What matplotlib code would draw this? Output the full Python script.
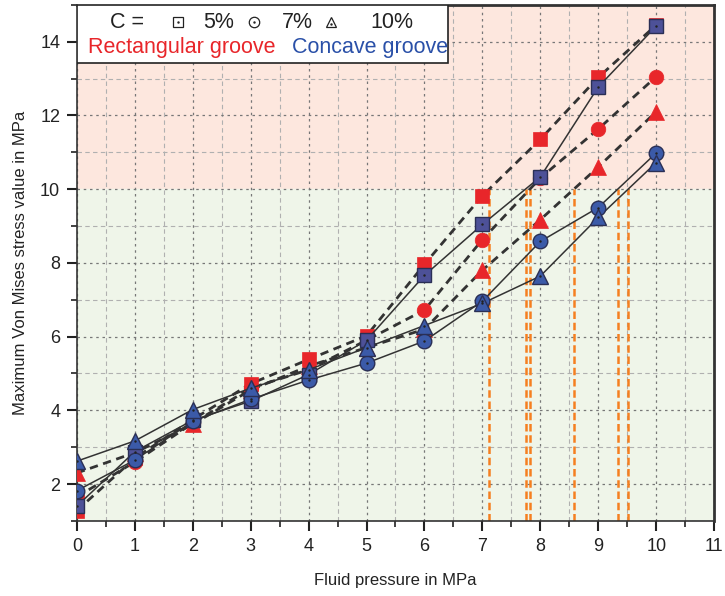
import numpy as np
import matplotlib
matplotlib.use("Agg")
import matplotlib.pyplot as plt
from matplotlib.patches import Rectangle
from matplotlib.ticker import MultipleLocator

plt.rcParams['font.family'] = ['Liberation Sans', 'DejaVu Sans']

# fluid pressure (MPa)
pressure = [0, 1, 2, 3, 4, 5, 6, 7, 8, 9, 10]

# rectangular groove, C = 5%, 7%, 10%
rect_5 = [1.28, 2.70, 3.75, 4.72, 5.38, 6.02, 7.96, 9.82, 11.35, 13.03, 14.45]
rect_7 = [1.65, 2.60, 3.65, 4.60, 5.10, 5.90, 6.72, 8.63, 10.30, 11.63, 13.05]
rect_10 = [2.30, 2.85, 3.62, 4.55, 5.20, 5.70, 6.20, 7.80, 9.17, 10.60, 12.10]

# concave groove, C = 5%, 7%, 10%
conc_5 = [1.40, 2.88, 3.73, 4.25, 4.97, 5.90, 7.66, 9.04, 10.33, 12.77, 14.42]
conc_7 = [1.82, 2.65, 3.70, 4.30, 4.82, 5.28, 5.88, 6.96, 8.58, 9.50, 10.98]
conc_10 = [2.62, 3.17, 4.02, 4.60, 5.10, 5.70, 6.30, 6.90, 7.64, 9.23, 10.72]

limit = 10.0

RED = "#e8262a"
BLUE = "#3b5aa8"
BLUE_SQ = "#4d5198"
EDGE = "#2a2f55"

fig = plt.figure(figsize=(7.25, 5.96), dpi=100)
ax = fig.add_axes([0.106, 0.126, 0.879, 0.866])
ax.set_xlim(0, 11)
ax.set_ylim(1, 15)

# background zones
ax.axhspan(limit, 15, color="#fde7de", zorder=0)
ax.axhspan(1, limit, color="#eff5e9", zorder=0)

# grid
ax.xaxis.set_major_locator(MultipleLocator(1))
ax.xaxis.set_minor_locator(MultipleLocator(0.5))
ax.yaxis.set_major_locator(MultipleLocator(2))
ax.yaxis.set_minor_locator(MultipleLocator(1))
ax.grid(which="major", linestyle=(0, (2, 3)), color="#777777", linewidth=0.9, zorder=1)
ax.grid(which="minor", linestyle=(0, (4, 3)), color="#b0b0b0", linewidth=0.8, zorder=1)
ax.set_axisbelow(True)

# orange markers where each curve crosses the 10 MPa limit
for ys in [rect_5, rect_7, rect_10, conc_5, conc_7, conc_10]:
    xc = np.interp(limit, ys, pressure)
    ax.plot([xc, xc], [1, limit], color="#f57f20", linestyle=(0, (3, 1.5)),
            linewidth=1.8, zorder=2)

# rectangular groove: dashed lines, red markers
for ys, mk, ms in [(rect_5, "s", 10.5), (rect_7, "o", 10.5), (rect_10, "^", 11.5)]:
    ax.plot(pressure, ys, color="#333333", linestyle=(0, (3, 2)), linewidth=2.0, zorder=3)
    ax.plot(pressure, ys, linestyle="none", marker=mk, markersize=ms,
            markerfacecolor=RED, markeredgecolor=RED, markeredgewidth=0.5, zorder=4)

# concave groove: solid lines, blue markers
for ys, mk, ms, fc in [(conc_5, "s", 10.5, BLUE_SQ), (conc_7, "o", 10.5, BLUE), (conc_10, "^", 11.5, BLUE)]:
    ax.plot(pressure, ys, color="#333333", linestyle="-", linewidth=1.1, zorder=5)
    ax.plot(pressure, ys, linestyle="none", marker=mk, markersize=ms,
            markerfacecolor=fc, markeredgecolor=EDGE, markeredgewidth=1.0, zorder=6)
    ax.plot(pressure, ys, linestyle="none", marker=".", markersize=1.5,
            color="#222222", zorder=7)

# spines and ticks
for side in ["left", "bottom"]:
    ax.spines[side].set_linewidth(1.2)
    ax.spines[side].set_color("#333333")
for side in ["top", "right"]:
    ax.spines[side].set_linewidth(2.0)
    ax.spines[side].set_color("#333333")
ax.tick_params(which="major", direction="out", length=7, width=1.5, labelsize=13,
               colors="#222222", pad=5)
ax.tick_params(which="minor", direction="out", length=4, width=1.2, colors="#222222")

ax.set_xlabel("Fluid pressure in MPa", fontsize=12, color="#222222", labelpad=13)
ax.set_ylabel("Maximum Von Mises stress value in MPa", fontsize=12, color="#222222",
              labelpad=9)

# legend box
ax.add_patch(Rectangle((0.0, 0.888), 0.582, 0.112, transform=ax.transAxes,
                       facecolor="white", edgecolor="#222222", linewidth=1.2, zorder=8))
row1, row2 = 0.966, 0.918
ax.text(0.052, row1, "C =", transform=ax.transAxes, fontsize=15.5, color="#222222",
        va="center", ha="left", zorder=9)
for xm, xl, mk, lab in [(0.159, 0.198, "s", "5%"), (0.278, 0.322, "o", "7%"),
                        (0.399, 0.460, "^", "10%")]:
    ax.plot([xm], [row1], transform=ax.transAxes, marker=mk, markersize=7.5,
            markerfacecolor="white", markeredgecolor="#222222", markeredgewidth=0.9,
            linestyle="none", zorder=9, clip_on=False)
    ax.plot([xm], [row1 - (0.004 if mk == "^" else 0)], transform=ax.transAxes,
            marker=".", markersize=1.5, color="#222222", linestyle="none", zorder=10)
    ax.text(xl, row1, lab, transform=ax.transAxes, fontsize=15.5,
            color="#222222", va="center", ha="left", zorder=9)
ax.text(0.017, row2, "Rectangular groove", transform=ax.transAxes, fontsize=15.5,
        color=RED, va="center", ha="left", zorder=9)
ax.text(0.338, row2, "Concave groove", transform=ax.transAxes, fontsize=15.5,
        color="#2a50a8", va="center", ha="left", zorder=9)

fig.savefig("out.png", dpi=100, facecolor="white")
